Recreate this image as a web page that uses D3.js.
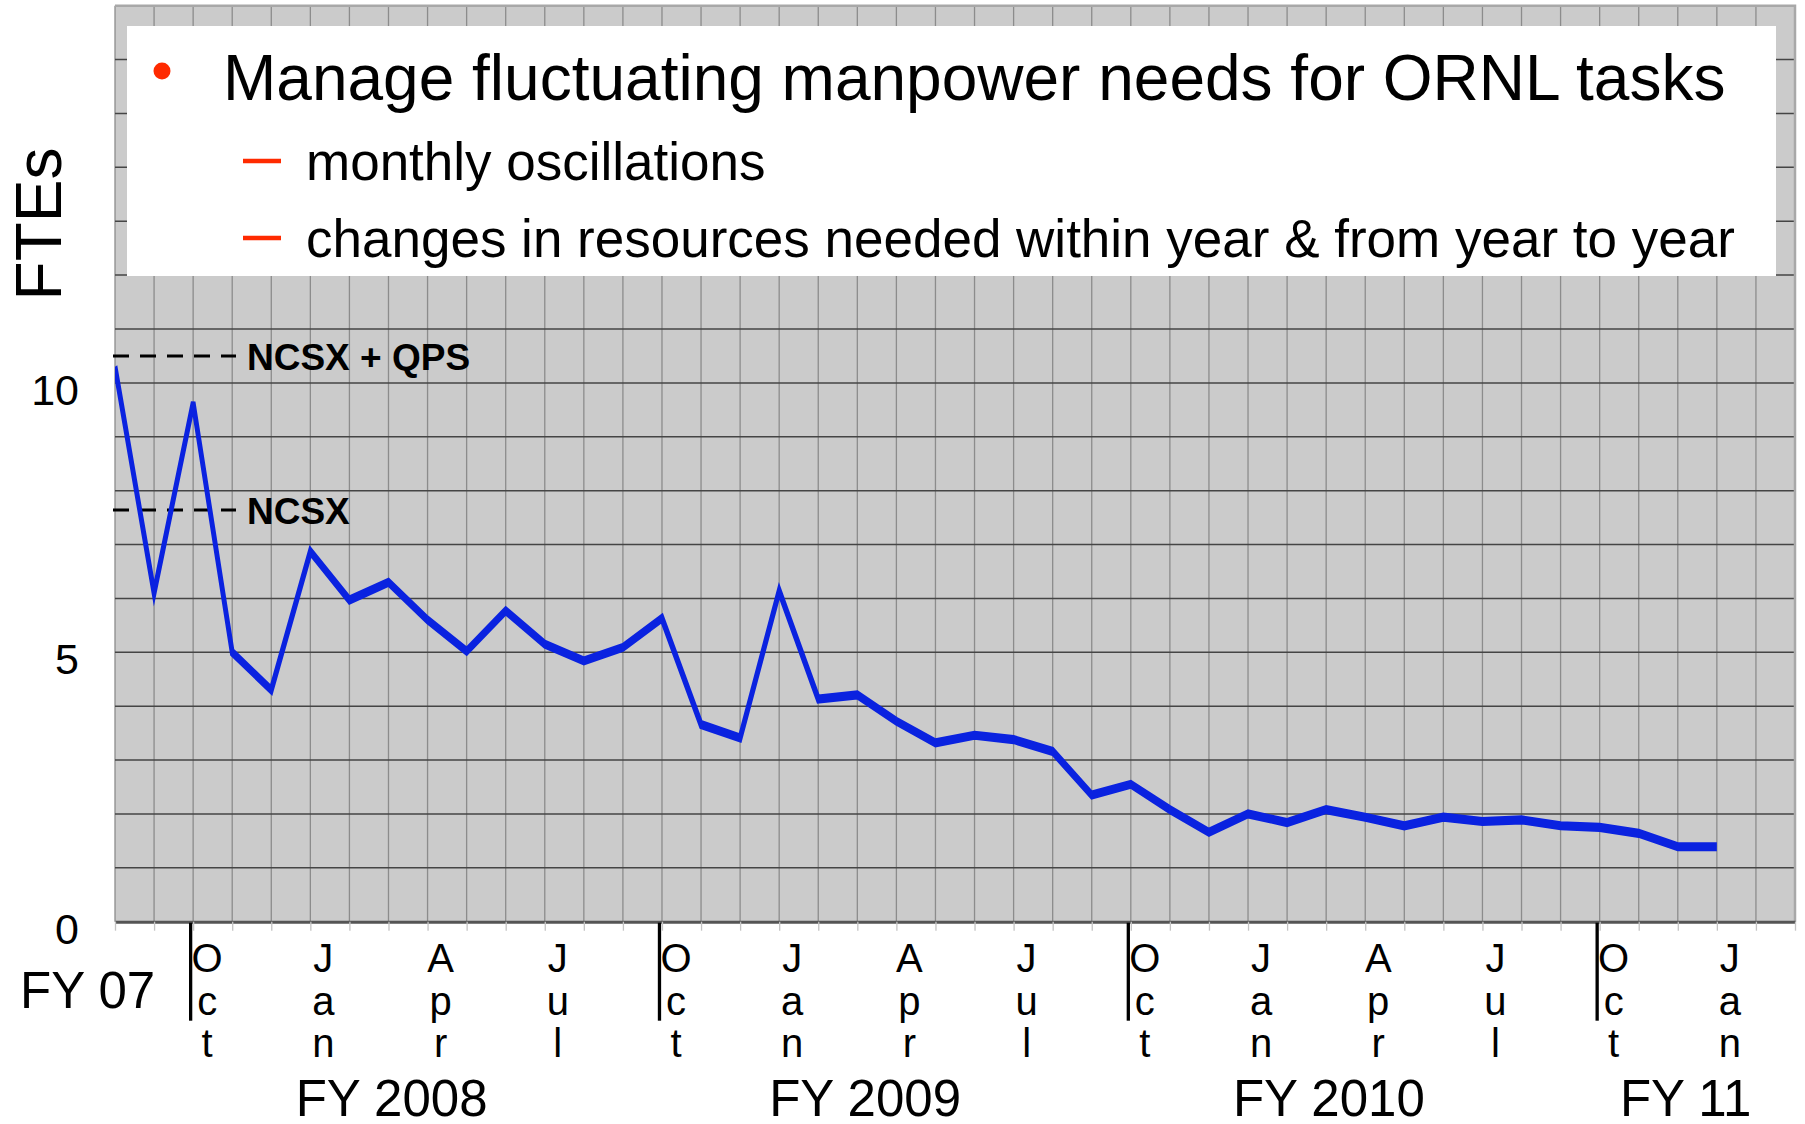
<!DOCTYPE html>
<html>
<head>
<meta charset="utf-8">
<script src="https://cdn.jsdelivr.net/npm/d3@7"></script>
<style>
  body { margin: 0; background: #fff; }
  text { font-family: "Liberation Sans", Arial, Helvetica, sans-serif; }
</style>
</head>
<body>
<script>
// monthly FTEs, Aug 2007 .. Jan 2011
var ftes = [10.3, 6.1, 9.63, 5.0, 4.3, 6.87, 5.97, 6.3, 5.6, 5.02, 5.77, 5.15, 4.84, 5.09,
            5.63, 3.66, 3.41, 6.14, 4.13, 4.21, 3.72, 3.32, 3.46, 3.38, 3.16, 2.35, 2.55, 2.08,
            1.66, 2.0, 1.84, 2.08, 1.94, 1.78, 1.94, 1.86, 1.89, 1.78, 1.75, 1.64, 1.39, 1.39];

var monthNames = ["Oct", "Jan", "Apr", "Jul", "Oct", "Jan", "Apr", "Jul", "Oct", "Jan", "Apr", "Jul", "Oct", "Jan"];
var monthIndex = [2, 5, 8, 11, 14, 17, 20, 23, 26, 29, 32, 35, 38, 41];

var fyNames = ["FY 07", "FY 2008", "FY 2009", "FY 2010", "FY 11"];
var fyAt = [-0.7, 7.08, 19.2, 31.07, 40.2];
var fyLine = [0, 1, 1, 1, 1];

var refNames = ["NCSX + QPS", "NCSX"];
var refValues = [10.5, 7.64];

var yTicks = [0, 5, 10];
var yLabel = "FTEs";

var bulletText = "Manage fluctuating manpower needs for ORNL tasks";
var subBullets = ["monthly oscillations", "changes in resources needed within year & from year to year"];

var W = 1805, H = 1124;
var plotL = 115, plotR = 1795, plotT = 5.7, plotB = 921.7;

var x = d3.scaleLinear().domain([0, 43]).range([plotL, plotR]);
var y = d3.scaleLinear().domain([0, 17]).range([plotB, plotT]);

var svg = d3.select("body").append("svg")
  .attr("width", W)
  .attr("height", H);

// the original picture is stretched vertically, so flat parts of the line look heavier
var stretch = 1.9;

svg.append("defs").append("clipPath").attr("id", "plotclip")
  .append("rect")
  .attr("x", plotL).attr("y", plotT / stretch)
  .attr("width", plotR - plotL).attr("height", (plotB - plotT) / stretch);

// plot background
svg.append("rect")
  .attr("x", plotL).attr("y", plotT)
  .attr("width", plotR - plotL).attr("height", plotB - plotT)
  .style("fill", "#cbcbcb");

// vertical grid (one per month)
svg.append("g")
  .selectAll("line")
  .data(d3.range(0, 44))
  .enter().append("line")
  .attr("x1", function(d) { return x(d); })
  .attr("x2", function(d) { return x(d); })
  .attr("y1", plotT)
  .attr("y2", plotB)
  .style("stroke", "#8c8c8c")
  .style("stroke-width", 1.3);

// horizontal grid (one per FTE)
svg.append("g")
  .selectAll("line")
  .data(d3.range(1, 18))
  .enter().append("line")
  .attr("x1", plotL)
  .attr("x2", plotR)
  .attr("y1", function(d) { return y(d); })
  .attr("y2", function(d) { return y(d); })
  .style("stroke", "#454545")
  .style("stroke-width", 1.5);

// plot frame top/right
svg.append("path")
  .attr("d", "M" + plotL + "," + plotT + "H" + plotR + "V" + plotB)
  .style("fill", "none")
  .style("stroke", "#a8a8a8")
  .style("stroke-width", 2.5);

// bottom axis with small ticks
var xAxis = svg.append("g")
  .attr("transform", "translate(0," + plotB + ")")
  .call(d3.axisBottom(x).tickValues(d3.range(0, 44)).tickSize(9).tickSizeOuter(0).tickFormat(""));
xAxis.selectAll(".tick line").style("stroke", "#c4c4c4").style("stroke-width", 1.3);
xAxis.select(".domain").style("stroke", "#555").style("stroke-width", 3);

// y tick labels
var yAxis = svg.append("g")
  .attr("transform", "translate(" + plotL + ",0)")
  .call(d3.axisLeft(y).tickValues(yTicks).tickSize(0).tickPadding(36));
yAxis.select(".domain").remove();
yAxis.selectAll("text")
  .attr("dy", "0.5em")
  .style("font-family", "'Liberation Sans', Arial, sans-serif")
  .style("font-size", "43px")
  .style("fill", "#000");

// y axis title
svg.append("text")
  .attr("transform", "translate(61,224) rotate(-90)")
  .attr("text-anchor", "middle")
  .style("font-size", "64px")
  .text(yLabel);

// reference dashed lines
var refs = svg.append("g");
refs.selectAll("line")
  .data(refValues)
  .enter().append("line")
  .attr("x1", 113)
  .attr("x2", 236)
  .attr("y1", function(d) { return y(d); })
  .attr("y2", function(d) { return y(d); })
  .style("stroke", "#000")
  .style("stroke-width", 3)
  .style("stroke-dasharray", "16,11");
refs.selectAll("text")
  .data(refNames)
  .enter().append("text")
  .attr("x", 247)
  .attr("y", function(d, i) { return y(refValues[i]); })
  .attr("dy", "0.37em")
  .style("font-size", "37px")
  .style("font-weight", "bold")
  .text(function(d) { return d; });

// FTE line
var line = d3.line()
  .x(function(d, i) { return x(i); })
  .y(function(d) { return y(d) / stretch; });

svg.append("g")
  .attr("transform", "scale(1," + stretch + ")")
  .append("path")
  .datum(ftes)
  .attr("clip-path", "url(#plotclip)")
  .attr("d", line)
  .style("fill", "none")
  .style("stroke", "#0a22e0")
  .style("stroke-width", 4.8)
  .style("stroke-linejoin", "miter")
  .style("stroke-miterlimit", 3);

// month labels, one letter per line
var months = svg.append("g");
monthNames.forEach(function(m, k) {
  var mx = x(monthIndex[k]);
  var tx = mx + (m == "Oct" ? 14 : 13);
  if (m == "Oct") {
    months.append("line")
      .attr("x1", mx - 2.5).attr("x2", mx - 2.5)
      .attr("y1", plotB + 1).attr("y2", plotB + 99)
      .style("stroke", "#000")
      .style("stroke-width", 3.3);
  }
  var t = months.append("text")
    .attr("x", tx)
    .attr("y", 972)
    .attr("text-anchor", "middle")
    .style("font-size", "40px");
  m.split("").forEach(function(ch, j) {
    t.append("tspan")
      .attr("x", tx)
      .attr("dy", j == 0 ? 0 : 42.5)
      .text(ch);
  });
});

// fiscal year labels
svg.append("g")
  .selectAll("text")
  .data(fyNames)
  .enter().append("text")
  .attr("x", function(d, i) { return x(fyAt[i]); })
  .attr("y", function(d, i) { return fyLine[i] == 0 ? 1008 : 1116; })
  .attr("text-anchor", "middle")
  .style("font-size", "51px")
  .text(function(d) { return d; });

// legend box
var leg = svg.append("g");
leg.append("rect")
  .attr("x", 127).attr("y", 26)
  .attr("width", 1776 - 127).attr("height", 250)
  .style("fill", "#fff");
leg.append("circle")
  .attr("cx", 162).attr("cy", 71).attr("r", 8.5)
  .style("fill", "#ff2a00");
leg.append("text")
  .attr("x", 223).attr("y", 100)
  .style("font-size", "64px")
  .text(bulletText);
leg.selectAll(".sub")
  .data(subBullets)
  .enter().append("text")
  .attr("class", "sub")
  .attr("x", 306)
  .attr("y", function(d, i) { return 180 + i * 77; })
  .style("font-size", "53px")
  .text(function(d) { return d; });
leg.selectAll(".dash")
  .data(subBullets)
  .enter().append("line")
  .attr("class", "dash")
  .attr("x1", 243).attr("x2", 281)
  .attr("y1", function(d, i) { return 161 + i * 77; })
  .attr("y2", function(d, i) { return 161 + i * 77; })
  .style("stroke", "#ff2a00")
  .style("stroke-width", 4.5);
</script>
</body>
</html>
